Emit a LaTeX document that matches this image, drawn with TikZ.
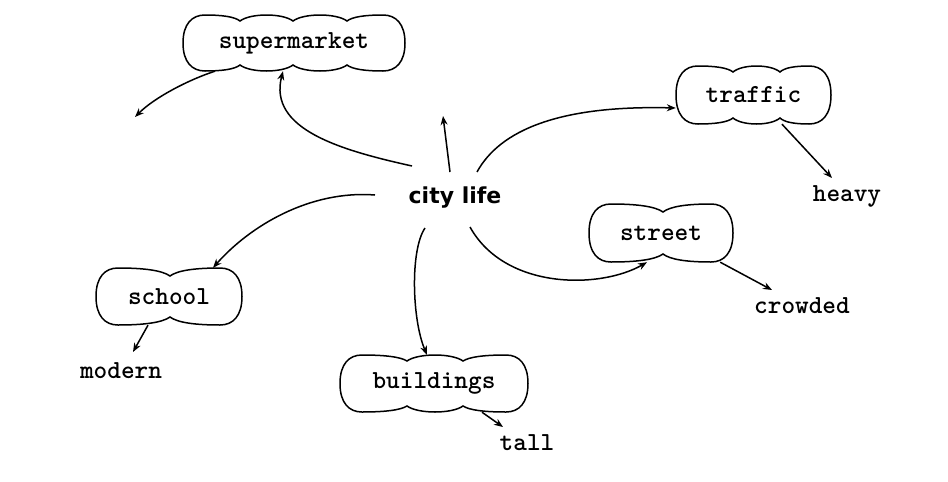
\documentclass[tikz,border=0pt]{standalone}
\usepackage{fontspec}
\usetikzlibrary{arrows.meta}
\newfontfamily\cityfont{DejaVu Sans}
\def\clDD{6}
\newcommand\cloudshape[7]{% x1 y1 x2 y2 firstdip lastdip middlepairs
 \pgfmathsetmacro\clYm{(#2+#4)/2}%
 \pgfmathsetmacro\clTd{#2+\clDD}%
 \pgfmathsetmacro\clBd{#4-\clDD}%
 \pgfmathsetmacro\clLa{#5-#1-22}%
 \pgfmathsetmacro\clLb{#3-22-#6}%
 \draw[cloudline] (#5,\clTd) .. controls ({#5-0.15*\clLa},{#2+0.3*\clDD}) and ({#1+22+0.5*\clLa},#2) .. (#1+22,#2)
   .. controls (#1+9,#2) and (#1,#2+9) .. (#1,\clYm)
   .. controls (#1,#4-9) and (#1+9,#4) .. (#1+22,#4)
   .. controls ({#1+22+0.5*\clLa},#4) and ({#5-0.15*\clLa},{#4-0.3*\clDD}) .. (#5,\clBd);
 \draw[cloudline] (#6,\clTd) .. controls ({#6+0.15*\clLb},{#2+0.3*\clDD}) and ({#3-22-0.5*\clLb},#2) .. (#3-22,#2)
   .. controls (#3-9,#2) and (#3,#2+9) .. (#3,\clYm)
   .. controls (#3,#4-9) and (#3-9,#4) .. (#3-22,#4)
   .. controls ({#3-22-0.5*\clLb},#4) and ({#6+0.15*\clLb},{#4-0.3*\clDD}) .. (#6,\clBd);
 \def\clMid{#7}%
 \ifx\clMid\empty\else
 \foreach \ca/\cb in {#7}{%
   \draw[cloudline] (\ca,\clTd) .. controls ({\ca+0.2*(\cb-\ca)},{#2-\clDD/3}) and ({\cb-0.2*(\cb-\ca)},{#2-\clDD/3}) .. (\cb,\clTd);
   \draw[cloudline] (\ca,\clBd) .. controls ({\ca+0.2*(\cb-\ca)},{#4+\clDD/3}) and ({\cb-0.2*(\cb-\ca)},{#4+\clDD/3}) .. (\cb,\clBd);
 }\fi
}
\newcommand\cloudnode[9]{% name x1 y1 x2 y2 text firstdip lastdip middlepairs
 \node[cloudtext, minimum width={#4-#2}, minimum height={#5-#3}] (#1) at ({(#2+#4)/2},{(#3+#5)/2}) {#6};
 \cloudshape{#2}{#3}{#4}{#5}{#7}{#8}{#9}
}
\tikzset{
 cloudline/.style={line width=1.5pt, line join=round, line cap=round},
 conn/.style={line width=1.5pt, -{Stealth[length=9pt,width=7pt]}},
 cloudtext/.style={font=\ttfamily\bfseries\fontsize{26}{28}\selectfont, inner sep=0pt},
 freelab/.style={font=\ttfamily\bfseries\fontsize{26}{28}\selectfont, inner sep=0pt},
 citylab/.style={font=\cityfont\bfseries\fontsize{22}{24}\selectfont, inner sep=0pt},
}
\begin{document}
\begin{tikzpicture}[x=1pt,y=-1pt]
\fill[white] (0,0) rectangle (948,482);
\useasboundingbox (0,0) rectangle (948,482);

\node[citylab] (city) at (455,198) {city life};

\cloudnode{sm}{183}{15}{405}{71}{supermarket}{240}{347}{240/293,293/347}
\cloudnode{tr}{676}{66}{831}{124}{traffic}{733}{780}{733/780}
\def\clDD{8}
\cloudnode{st}{589}{204}{733}{262}{street}{663}{663}{}
\cloudnode{sc}{96}{268}{242}{325}{school}{170}{170}{}
\def\clDD{6}
\cloudnode{bd}{340}{355}{528}{412}{buildings}{407}{463}{407/463}

\node[freelab] (hv) at (847,196) {heavy};
\node[freelab] (cr) at (802,306) {crowded};
\node[freelab] (md) at (121,371) {modern};
\node[freelab] (tl) at (527,443) {tall};

\coordinate (upend) at (443,116);
\coordinate (smend) at (135,117);

% city life -> supermarket
\draw[conn] ([shift={(-43,-32)}]city.center) .. controls +(-72,-16) and +(-15,58) .. ([xshift=-11pt]sm.south);
% supermarket -> free end
\draw[conn] ([xshift=-79pt]sm.south) .. controls +(-25,8) and +(20,-20) .. (smend);
% city life -> up
\draw[conn] ([shift={(-5,-26)}]city.center) -- (upend);
% city life -> traffic
\draw[conn] ([shift={(22,-26)}]city.center) .. controls +(23,-42) and +(-116,-3) .. ([yshift=-13pt]tr.west);
% traffic -> heavy
\draw[conn] ([xshift=28.5pt]tr.south) -- ([shift={(-15,-18)}]hv.center);
% city life -> street
\draw[conn] ([shift={(15,29)}]city.center) .. controls +(35,63) and +(-47,27) .. ([xshift=-14pt]st.south);
% street -> crowded
\draw[conn] ([xshift=-13pt]st.south east) -- ([shift={(-30,-16)}]cr.center);
% city life -> school
\draw[conn] ([shift={(-80,-3)}]city.center) .. controls +(-65,-5) and +(37,-42) .. ([xshift=44pt]sc.north);
% school -> modern
\draw[conn] ([xshift=-21pt]sc.south) -- ([shift={(12,-19)}]md.center);
% city life -> buildings
\draw[conn] ([shift={(-30,30)}]city.center) .. controls +(-15,22) and +(-15,-35) .. ([xshift=-7pt]bd.north);
% buildings -> tall
\draw[conn] ([xshift=48pt]bd.south) -- ([shift={(-24,-16)}]tl.center);
\end{tikzpicture}
\end{document}
